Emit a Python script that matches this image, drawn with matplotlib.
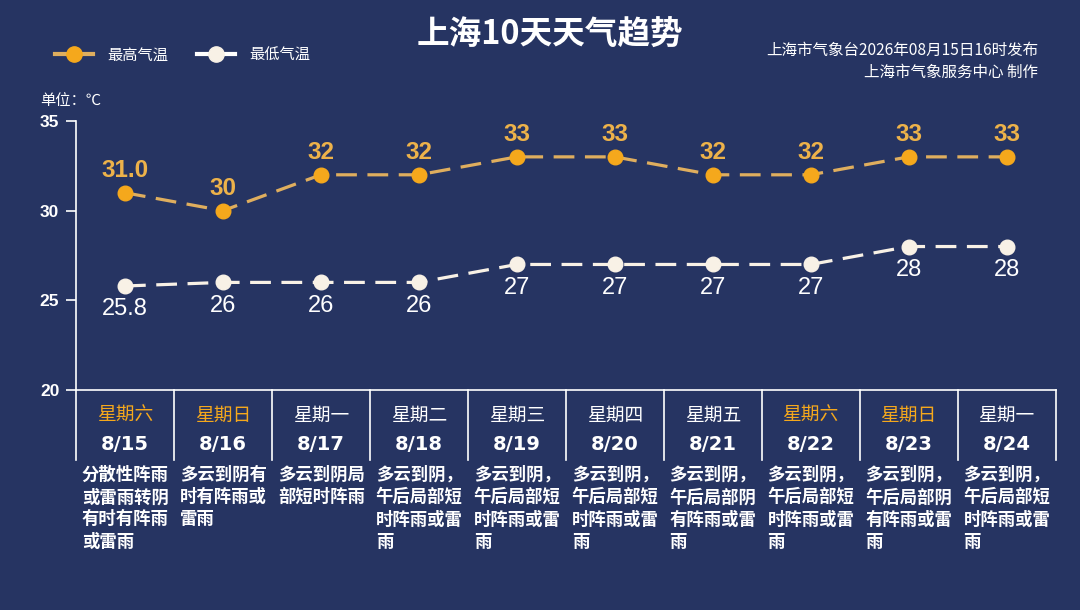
import matplotlib.pyplot as plt
from matplotlib.lines import Line2D
from matplotlib.transforms import blended_transform_factory

plt.rcParams['font.family'] = ['Noto Sans CJK SC', 'DejaVu Sans']

# data
dates = ['8/15', '8/16', '8/17', '8/18', '8/19', '8/20', '8/21', '8/22', '8/23', '8/24']
weekdays = ['星期六', '星期日', '星期一', '星期二', '星期三', '星期四', '星期五', '星期六', '星期日', '星期一']
high = [31.0, 30, 32, 32, 33, 33, 32, 32, 33, 33]
high_labels = ['31.0', '30', '32', '32', '33', '33', '32', '32', '33', '33']
low = [25.8, 26, 26, 26, 27, 27, 27, 27, 28, 28]
low_labels = ['25.8', '26', '26', '26', '27', '27', '27', '27', '28', '28']
weather = [
    '分散性阵雨或雷雨转阴有时有阵雨或雷雨',
    '多云到阴有时有阵雨或雷雨',
    '多云到阴局部短时阵雨',
    '多云到阴，午后局部短时阵雨或雷雨',
    '多云到阴，午后局部短时阵雨或雷雨',
    '多云到阴，午后局部短时阵雨或雷雨',
    '多云到阴，午后局部阴有阵雨或雷雨',
    '多云到阴，午后局部短时阵雨或雷雨',
    '多云到阴，午后局部阴有阵雨或雷雨',
    '多云到阴，午后局部短时阵雨或雷雨',
]
yticks = [20, 25, 30, 35]

bg = '#263462'
orange = '#F5A81C'
orange_line = '#DFAE5E'
orange_txt = '#EDB24A'
white = '#FFFFFF'
cream = '#F8F1E6'

W, H = 1080, 610
fig = plt.figure(figsize=(W / 100, H / 100), dpi=100, facecolor=bg)
ax = fig.add_axes([76 / W, 1 - 390 / H, (1055.5 - 76) / W, (390 - 121) / H])
ax.set_facecolor(bg)

x = [i + 0.5 for i in range(len(dates))]
ax.plot(x, high, color=orange_line, lw=2.3, dashes=(6.5, 3.3), zorder=2)
ax.plot(x, high, 'o', color=orange, ms=10.5, zorder=3)
ax.plot(x, low, color=cream, lw=2.3, dashes=(6.5, 3.3), zorder=2)
ax.plot(x, low, 'o', color=cream, ms=10.5, zorder=3)

for xi, v, s in zip(x, high, high_labels):
    ax.annotate(s, (xi, v), xytext=(0, 8), textcoords='offset points', ha='center', va='bottom',
                color=orange_txt, fontsize=17.5, fontweight='bold', family=['Liberation Sans'])
for xi, v, s in zip(x, low, low_labels):
    ax.annotate(s, (xi, v), xytext=(0, -9), textcoords='offset points', ha='center', va='top',
                color=white, fontsize=17, family=['Liberation Sans'])

ax.set_xlim(0, 10)
ax.set_ylim(20, 35)
ax.set_yticks(yticks)
ax.set_xticks([])
ax.tick_params(axis='y', colors=white, length=7, width=1.2, direction='out', pad=5)
for lab in ax.get_yticklabels():
    lab.set_fontweight('bold')
    lab.set_fontsize(12.5)
    lab.set_family(['Liberation Sans'])
for sp in ['top', 'right']:
    ax.spines[sp].set_visible(False)
for sp in ['left', 'bottom']:
    ax.spines[sp].set_color(white)
    ax.spines[sp].set_linewidth(1.2)

# table below the axis
tr = blended_transform_factory(ax.transData, fig.transFigure)
y_top = 1 - 390 / H
y_bot = 1 - 460 / H
for i in range(len(dates) + 1):
    ax.add_line(Line2D([i, i], [y_top, y_bot], transform=tr, color=white, lw=1.2, clip_on=False))

weekend = ['星期六', '星期日']
for i, (d, wd, txt) in enumerate(zip(dates, weekdays, weather)):
    c = orange if wd in weekend else white
    ax.text(i + 0.5, 1 - 415 / H, wd, transform=tr, ha='center', va='center', color=c, fontsize=13.5)
    ax.text(i + 0.5, 1 - 444 / H, d, transform=tr, ha='center', va='center', color=white,
            fontsize=14, fontweight='bold', family=['DejaVu Sans'])
    lines = [txt[k:k + 5] for k in range(0, len(txt), 5)]
    ax.text(i + 0.06, 1 - 466 / H, '\n'.join(lines), transform=tr, ha='left', va='top', color=white,
            fontsize=12.5, fontweight='bold', linespacing=1.3)

# title and notes
fig.text(550 / W, 1 - 35 / H, '上海10天天气趋势', ha='center', va='center', color=white,
         fontsize=23.5, fontweight='bold')
fig.text(1038 / W, 1 - 50 / H, '上海市气象台2026年08月15日16时发布', ha='right', va='center',
         color=white, fontsize=11.2)
fig.text(1038 / W, 1 - 72 / H, '上海市气象服务中心 制作', ha='right', va='center',
         color=white, fontsize=11.2)
fig.text(40 / W, 1 - 101 / H, '单位：℃', ha='left', va='center', color=white, fontsize=11)

handles = [Line2D([], [], color=orange_line, lw=3, marker='o', ms=11, mfc=orange, mec=orange),
           Line2D([], [], color=white, lw=3, marker='o', ms=11, mfc=cream, mec=cream)]
fig.legend(handles, ['最高气温', '最低气温'], loc='center left', bbox_to_anchor=(55 / W, 1 - 55 / H),
           ncol=2, frameon=False, handlelength=2.5, handletextpad=0.9, columnspacing=1.9,
           labelcolor=white, fontsize=11, borderpad=0, borderaxespad=0)

fig.savefig('out.png', dpi=100, facecolor=bg)
